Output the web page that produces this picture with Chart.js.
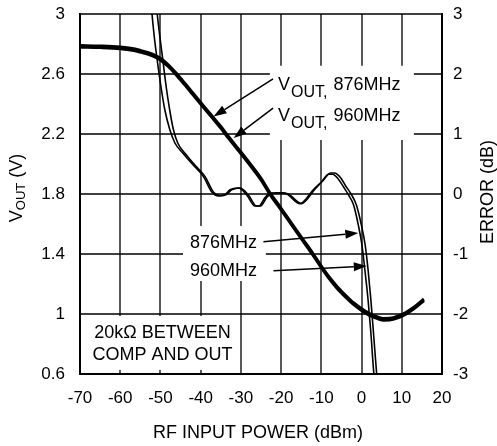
<!DOCTYPE html>
<html>
<head>
<meta charset="utf-8">
<script src="https://cdn.jsdelivr.net/npm/chart.js@4.4.1/dist/chart.umd.min.js"></script>
<style>
  html, body { margin: 0; padding: 0; background: #fff; }
  #wrap { width: 497px; height: 446px; }
</style>
</head>
<body>
<div id="wrap"><canvas id="c" width="497" height="446"></canvas></div>
<script>
// ---- tick labels ----
const xTicks = [-70, -60, -50, -40, -30, -20, -10, 0, 10, 20];
const vTicks = [0.6, 1, 1.4, 1.8, 2.2, 2.6, 3];
const eTicks = [-3, -2, -1, 0, 1, 2, 3];

// ---- VOUT curves (left axis, V) ----
const powerVout = [-70,-65,-60,-57,-55,-53,-51,-50,-48,-46,-44,-42,-40,-37,-35,-33,-30,-27,-25,-22.7,-20,-17,-14.5,-12,-10,-8,-6,-4,-2,0,2,4,5.5,7,9,11,13,15.5];
const vout876 = [2.79,2.787,2.78,2.77,2.757,2.742,2.72,2.705,2.66,2.603,2.54,2.475,2.41,2.315,2.25,2.18,2.08,1.977,1.905,1.805,1.705,1.59,1.495,1.40,1.32,1.245,1.18,1.125,1.075,1.035,1.002,0.98,0.97,0.971,0.985,1.01,1.045,1.1];
const vout960 = [2.779,2.776,2.769,2.759,2.746,2.731,2.709,2.694,2.649,2.592,2.529,2.464,2.399,2.304,2.239,2.169,2.069,1.966,1.894,1.794,1.694,1.579,1.484,1.389,1.309,1.234,1.169,1.114,1.064,1.024,0.991,0.969,0.959,0.96,0.974,0.999,1.034,1.089];

// ---- error curves (right axis, dB) ----
const powerErr876 = [-52.3,-52.1,-51.5,-50.8,-49.9,-48.9,-47.7,-46.4,-44.3,-41.8,-39.3,-37.2,-35.5,-34,-32.7,-30.6,-28.5,-26.5,-25.5,-24,-22.7,-20.5,-18.6,-15.3,-12,-10,-8.2,-7.2,-5.8,-4.5,-3.2,-2,-0.8,0.1,0.8,1.6,2.3,3.0,3.3];
const err876 = [3.15,3.0,2.6,2.23,1.8,1.4,1.08,0.85,0.67,0.48,0.29,0.03,-0.03,-0.01,0.07,0.1,-0.02,-0.2,-0.2,-0.06,0.01,0.02,0.0,-0.16,0.07,0.2,0.33,0.33,0.25,0.12,-0.02,-0.18,-0.52,-0.85,-1.25,-1.75,-2.3,-2.95,-3.15];
const powerErr960 = [-51.0,-50.8,-50.1,-49.4,-48.6,-47.7,-46.8,-45.7,-43.8,-41.4,-38.9,-36.8,-35.1,-33.6,-32.3,-30.2,-28.1,-26.1,-25.1,-23.6,-22.3,-20.1,-18.2,-14.9,-11.6,-9.6,-7.7,-6.7,-5.2,-3.9,-2.6,-1.3,-0.1,0.9,1.6,2.3,2.95,3.7,4.0];
const err960 = [3.15,3.0,2.6,2.23,1.8,1.4,1.08,0.85,0.67,0.48,0.29,0.03,-0.03,-0.01,0.07,0.1,-0.02,-0.2,-0.2,-0.06,0.01,0.02,0.0,-0.16,0.08,0.22,0.35,0.35,0.27,0.13,0.0,-0.18,-0.5,-0.85,-1.25,-1.75,-2.3,-2.95,-3.15];

const FONT = '"Liberation Sans", Arial, Helvetica, sans-serif';

function pts(xs, ys) { return xs.map((x, i) => ({ x: x, y: ys[i] })); }

// annotation layout (in data units: x = dBm, y = V on left axis)
const boxes = [
  { x0: -22.8, x1: 13.0, y0: 2.655, y1: 2.16 },
  { x0: -44.4, x1: -23.8, y0: 1.587, y1: 1.22 },
  { x0: -69.5, x1: -30.7, y0: 0.987, y1: 0.627 }
];
const arrows = [
  { x0: -22.0, y0: 2.567, x1: -36.8, y1: 2.317 },
  { x0: -22.0, y0: 2.373, x1: -31.8, y1: 2.173 },
  { x0: -24.4, y0: 1.482, x1: -0.8, y1: 1.54 },
  { x0: -21.9, y0: 1.289, x1: 1.3, y1: 1.32 }
];

function drawArrow(ctx, x0, y0, x1, y1) {
  const ang = Math.atan2(y1 - y0, x1 - x0);
  const L = 13, W = 4.5;
  const bx = x1 - L * Math.cos(ang), by = y1 - L * Math.sin(ang);
  ctx.beginPath();
  ctx.moveTo(x0, y0);
  ctx.lineTo(bx, by);
  ctx.lineWidth = 1.5;
  ctx.strokeStyle = '#000';
  ctx.stroke();
  ctx.beginPath();
  ctx.moveTo(x1, y1);
  ctx.lineTo(bx - W * Math.sin(ang), by + W * Math.cos(ang));
  ctx.lineTo(bx + W * Math.sin(ang), by - W * Math.cos(ang));
  ctx.closePath();
  ctx.fillStyle = '#000';
  ctx.fill();
}

function drawVoutLabel(ctx, x, y, freq) {
  ctx.textAlign = 'left';
  ctx.textBaseline = 'alphabetic';
  ctx.fillStyle = '#000';
  ctx.font = '18px ' + FONT;
  ctx.fillText('V', x, y);
  let cx = x + ctx.measureText('V').width + 1;
  ctx.font = '16px ' + FONT;
  ctx.fillText('OUT,', cx, y + 7);
  cx += ctx.measureText('OUT,').width + 6;
  ctx.font = '18px ' + FONT;
  ctx.fillText(freq, cx, y);
}

const annot = {
  id: 'annot',
  beforeDatasetsDraw(chart) {
    const ctx = chart.ctx, sx = chart.scales.x, sy = chart.scales.yV, ca = chart.chartArea;
    ctx.save();
    // grid lines through the library's scales
    ctx.strokeStyle = '#000';
    ctx.lineWidth = 1.3;
    ctx.beginPath();
    xTicks.forEach(v => {
      const x = Math.round(sx.getPixelForValue(v));
      ctx.moveTo(x, ca.top); ctx.lineTo(x, ca.bottom);
    });
    vTicks.forEach(v => {
      const y = Math.round(sy.getPixelForValue(v));
      ctx.moveTo(ca.left, y); ctx.lineTo(ca.right, y);
    });
    ctx.stroke();
    // white label boxes
    ctx.fillStyle = '#fff';
    boxes.forEach(b => {
      const l = sx.getPixelForValue(b.x0), r = sx.getPixelForValue(b.x1);
      const t = sy.getPixelForValue(b.y0), bt = sy.getPixelForValue(b.y1);
      ctx.fillRect(l, t, r - l, bt - t);
    });
    ctx.restore();
  },
  afterDatasetsDraw(chart) {
    const ctx = chart.ctx, sx = chart.scales.x, sy = chart.scales.yV;
    ctx.save();
    arrows.forEach(a => drawArrow(ctx, sx.getPixelForValue(a.x0), sy.getPixelForValue(a.y0),
                                       sx.getPixelForValue(a.x1), sy.getPixelForValue(a.y1)));
    drawVoutLabel(ctx, sx.getPixelForValue(-20.77), sy.getPixelForValue(2.493), '876MHz');
    drawVoutLabel(ctx, sx.getPixelForValue(-20.77), sy.getPixelForValue(2.287), '960MHz');
    ctx.font = '18px ' + FONT;
    ctx.textAlign = 'left';
    ctx.fillStyle = '#000';
    ctx.fillText('876MHz', sx.getPixelForValue(-42.65), sy.getPixelForValue(1.44));
    ctx.fillText('960MHz', sx.getPixelForValue(-42.65), sy.getPixelForValue(1.253));
    ctx.textAlign = 'center';
    ctx.fillText('20kΩ BETWEEN', sx.getPixelForValue(-49.5), sy.getPixelForValue(0.84));
    ctx.fillText('COMP AND OUT', sx.getPixelForValue(-49.5), sy.getPixelForValue(0.693));
    ctx.restore();
  },
  afterDraw(chart) {
    const ctx = chart.ctx, ca = chart.chartArea;
    ctx.save();
    ctx.fillStyle = '#000';
    ctx.textBaseline = 'alphabetic';
    // bottom title
    ctx.font = '18px ' + FONT;
    ctx.textAlign = 'center';
    ctx.fillText('RF INPUT POWER (dBm)', (ca.left + ca.right) / 2 - 3, 438);
    // left title: V_OUT (V)
    ctx.save();
    ctx.translate(22, 188);
    ctx.rotate(-Math.PI / 2);
    ctx.textAlign = 'left';
    ctx.font = '18px ' + FONT;
    const wV = ctx.measureText('V').width;
    const wP = ctx.measureText(' (V)').width;
    ctx.font = '13px ' + FONT;
    const wS = ctx.measureText('OUT').width;
    let x = -(wV + wS + wP) / 2;
    ctx.font = '18px ' + FONT;
    ctx.fillText('V', x, 0);
    x += wV;
    ctx.font = '13px ' + FONT;
    ctx.fillText('OUT', x, 3);
    x += wS;
    ctx.font = '18px ' + FONT;
    ctx.fillText(' (V)', x, 0);
    ctx.restore();
    // right title
    ctx.save();
    ctx.translate(493, 192);
    ctx.rotate(-Math.PI / 2);
    ctx.textAlign = 'center';
    ctx.font = '18px ' + FONT;
    ctx.fillText('ERROR (dB)', 0, 0);
    ctx.restore();
    ctx.restore();
  }
};

const tickFont = { family: FONT, size: 17 };
function borderStyle() { return { display: true, color: '#000', width: 2 }; }
function noPad(s) { s.paddingTop = 0; s.paddingBottom = 0; s.paddingLeft = 0; s.paddingRight = 0; }

new Chart(document.getElementById('c'), {
  type: 'line',
  data: {
    datasets: [
      { label: 'VOUT 876MHz', data: pts(powerVout, vout876), yAxisID: 'yV', borderColor: '#000', borderWidth: 3, pointRadius: 0, cubicInterpolationMode: 'monotone', clip: 0 },
      { label: 'VOUT 960MHz', data: pts(powerVout, vout960), yAxisID: 'yV', borderColor: '#000', borderWidth: 3, pointRadius: 0, cubicInterpolationMode: 'monotone', clip: 0 },
      { label: 'ERROR 876MHz', data: pts(powerErr876, err876), yAxisID: 'yE', borderColor: '#000', borderWidth: 1.6, pointRadius: 0, cubicInterpolationMode: 'monotone', clip: 0 },
      { label: 'ERROR 960MHz', data: pts(powerErr960, err960), yAxisID: 'yE', borderColor: '#000', borderWidth: 1.6, pointRadius: 0, cubicInterpolationMode: 'monotone', clip: 0 }
    ]
  },
  options: {
    responsive: false,
    devicePixelRatio: 1,
    animation: false,
    layout: { padding: { top: 14, left: 0, right: 0, bottom: 0 } },
    plugins: { legend: { display: false }, tooltip: { enabled: false } },
    scales: {
      x: {
        type: 'linear', min: -70, max: 20,
        afterBuildTicks: s => { s.ticks = xTicks.map(v => ({ value: v })); },
        afterFit: s => { s.height = 72; noPad(s); },
        ticks: { font: tickFont, color: '#000', padding: 14, autoSkip: false, maxRotation: 0, callback: v => String(v) },
        grid: { display: false, drawTicks: false },
        border: borderStyle()
      },
      yV: {
        type: 'linear', position: 'left', min: 0.6, max: 3,
        afterBuildTicks: s => { s.ticks = vTicks.map(v => ({ value: v })); },
        afterFit: s => { s.width = 80; noPad(s); },
        ticks: { font: tickFont, color: '#000', padding: 15, autoSkip: false, callback: v => String(v) },
        grid: { display: false, drawTicks: false },
        border: borderStyle()
      },
      yE: {
        type: 'linear', position: 'right', min: -3, max: 3,
        afterBuildTicks: s => { s.ticks = eTicks.map(v => ({ value: v })); },
        afterFit: s => { s.width = 55; noPad(s); },
        ticks: { font: tickFont, color: '#000', padding: 11, autoSkip: false, callback: v => String(v) },
        grid: { display: false, drawTicks: false },
        border: borderStyle()
      }
    }
  },
  plugins: [annot]
});
</script>
</body>
</html>
